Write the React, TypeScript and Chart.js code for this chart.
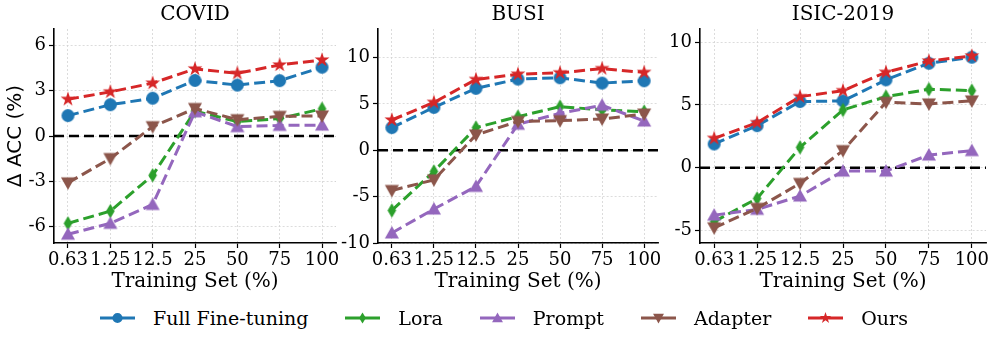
import React, { useEffect, useRef } from 'react';
import { Chart, registerables } from 'chart.js';

Chart.register(...registerables);

// ---------- data ----------
const categories = ['0.63', '1.25', '12.5', '25', '50', '75', '100'];
const seriesNames = ['Full Fine-tuning', 'Lora', 'Prompt', 'Adapter', 'Ours'];
const seriesColors = ['#1f77b4', '#2ca02c', '#9467bd', '#8c564b', '#d62728'];
const seriesMarkers = ['circle', 'thin_diamond', 'triangle_up', 'triangle_down', 'star'];

const covidFull = [1.35, 2.07, 2.5, 3.68, 3.37, 3.66, 4.55];
const covidLora = [-5.78, -4.97, -2.6, 1.65, 0.95, 1.15, 1.8];
const covidPrompt = [-6.5, -5.78, -4.53, 1.6, 0.62, 0.7, 0.72];
const covidAdapter = [-3.1, -1.49, 0.62, 1.82, 1.08, 1.3, 1.33];
const covidOurs = [2.43, 2.92, 3.5, 4.44, 4.15, 4.7, 5.03];

const busiFull = [2.44, 4.62, 6.67, 7.67, 7.81, 7.24, 7.49];
const busiLora = [-6.49, -2.29, 2.44, 3.62, 4.7, 4.35, 4.16];
const busiPrompt = [-8.92, -6.34, -3.9, 2.8, 3.98, 4.85, 3.15];
const busiAdapter = [-4.34, -3.19, 1.65, 3.1, 3.19, 3.37, 3.9];
const busiOurs = [3.26, 5.16, 7.63, 8.2, 8.35, 8.8, 8.39];

const isicFull = [1.89, 3.35, 5.27, 5.32, 7.0, 8.32, 8.8];
const isicLora = [-4.3, -2.45, 1.62, 4.6, 5.66, 6.25, 6.14];
const isicPrompt = [-3.78, -3.32, -2.26, -0.27, -0.27, 1.01, 1.36];
const isicAdapter = [-4.79, -3.24, -1.25, 1.36, 5.21, 5.08, 5.32];
const isicOurs = [2.34, 3.59, 5.66, 6.14, 7.6, 8.5, 8.9];

const covidYTicks = [-6, -3, 0, 3, 6];
const busiYTicks = [-10, -5, 0, 5, 10];
const isicYTicks = [-5, 0, 5, 10];

const SERIF = "'DejaVu Serif', serif";
const SANS = "'DejaVu Sans', sans-serif";

// ---------- markers ----------
function markerPath(shape: string, cx: number, cy: number, s: number): string {
  switch (shape) {
    case 'circle':
      return `M ${cx - s} ${cy} A ${s} ${s} 0 1 0 ${cx + s} ${cy} A ${s} ${s} 0 1 0 ${cx - s} ${cy} Z`;
    case 'thin_diamond':
      return `M ${cx} ${cy - s} L ${cx + s * 0.6} ${cy} L ${cx} ${cy + s} L ${cx - s * 0.6} ${cy} Z`;
    case 'triangle_up':
      return `M ${cx} ${cy - s} L ${cx + s} ${cy + s * 0.8} L ${cx - s} ${cy + s * 0.8} Z`;
    case 'triangle_down':
      return `M ${cx} ${cy + s} L ${cx + s} ${cy - s * 0.8} L ${cx - s} ${cy - s * 0.8} Z`;
    case 'star': {
      let d = '';
      for (let k = 0; k < 10; k++) {
        const r = k % 2 === 0 ? s : s * 0.382;
        const a = -Math.PI / 2 + (k * Math.PI) / 5;
        d += `${k === 0 ? 'M' : 'L'} ${cx + r * Math.cos(a)} ${cy + r * Math.sin(a)} `;
      }
      return d + 'Z';
    }
  }
  return '';
}

const markerHalf: Record<string, number> = {
  circle: 6.5,
  thin_diamond: 7.2,
  triangle_up: 7,
  triangle_down: 7,
  star: 7.8,
};

function makeMarker(shape: string, color: string): HTMLCanvasElement {
  const s = markerHalf[shape];
  const size = Math.ceil(2 * s + 2);
  const c = document.createElement('canvas');
  c.width = size;
  c.height = size;
  const ctx = c.getContext('2d')!;
  ctx.fillStyle = color;
  ctx.fill(new Path2D(markerPath(shape, size / 2, size / 2, s)));
  return c;
}

const zeroLinePlugin = {
  id: 'zeroLine',
  beforeDatasetsDraw(chart: any) {
    const { ctx, chartArea, scales } = chart;
    const py = scales.y.getPixelForValue(0);
    ctx.save();
    ctx.strokeStyle = '#000';
    ctx.lineWidth = 2.5;
    ctx.setLineDash([10, 5]);
    ctx.beginPath();
    ctx.moveTo(chartArea.left, py);
    ctx.lineTo(chartArea.right, py);
    ctx.stroke();
    ctx.restore();
  },
};

const CANVAS_H = 300;

type PanelProps = {
  left: number;
  width: number;
  yAxisWidth: number;
  padRight: number;
  title: string;
  ymin: number;
  ymax: number;
  yTicks: number[];
  series: number[][];
  showYTitle: boolean;
};

function Panel(p: PanelProps) {
  const ref = useRef<HTMLCanvasElement>(null);
  useEffect(() => {
    const markers = seriesMarkers.map((m, i) => makeMarker(m, seriesColors[i]));
    const chart = new Chart(ref.current!, {
      type: 'line',
      data: {
        datasets: seriesNames.map((name, i) => ({
          label: name,
          data: p.series[i].map((v, j) => ({ x: j, y: v })),
          borderColor: seriesColors[i],
          backgroundColor: seriesColors[i],
          borderWidth: 3,
          borderDash: [11, 5],
          pointStyle: markers[i] as any,
          pointRadius: 7,
          order: 4 - i,
          tension: 0,
          fill: false,
        })),
      },
      options: {
        animation: false,
        responsive: false,
        events: [],
        layout: { padding: { left: 0, right: p.padRight, top: 0, bottom: 0 } },
        plugins: {
          legend: { display: false },
          tooltip: { enabled: false },
          title: {
            display: true,
            text: p.title,
            fullSize: false,
            color: '#000',
            font: { family: SERIF, size: 20, weight: 'normal', lineHeight: 1.2 },
            padding: { top: 3, bottom: 2 },
          },
        },
        scales: {
          x: {
            type: 'linear',
            min: -0.33,
            max: 6.33,
            afterBuildTicks: (s: any) => {
              s.ticks = categories.map((_, j) => ({ value: j }));
            },
            afterFit: (s: any) => {
              s.height = CANVAS_H - 243;
            },
            ticks: {
              callback: (v: any) => categories[v],
              color: '#000',
              font: { family: SERIF, size: 18 },
              padding: 2,
              maxRotation: 0,
              autoSkip: false,
            },
            grid: {
              color: '#d4d4d4',
              lineWidth: 0.8,
              tickLength: 5,
              tickColor: '#000',
              tickWidth: 1.2,
              tickBorderDash: [],
            },
            border: { color: '#000', width: 1.6, dash: [2, 2] },
            title: {
              display: true,
              text: 'Training Set (%)',
              color: '#000',
              font: { family: SERIF, size: 20, lineHeight: 1.2 },
              padding: { top: 0, bottom: 6 },
            },
          },
          y: {
            type: 'linear',
            min: p.ymin,
            max: p.ymax,
            afterBuildTicks: (s: any) => {
              s.ticks = p.yTicks.map((v) => ({ value: v }));
            },
            afterFit: (s: any) => {
              s.width = p.yAxisWidth;
            },
            ticks: {
              callback: (v: any) => String(v),
              color: '#000',
              font: { family: SERIF, size: 18 },
              padding: 3,
            },
            grid: {
              color: '#d4d4d4',
              lineWidth: 0.8,
              tickLength: 5,
              tickColor: '#000',
              tickWidth: 1.2,
              tickBorderDash: [],
            },
            border: { color: '#000', width: 1.6, dash: [2, 2] },
            title: {
              display: p.showYTitle,
              text: 'Δ ACC (%)',
              color: '#000',
              font: { family: SANS, size: 20, lineHeight: 1.2 },
              padding: { top: 4, bottom: 0 },
            },
          },
        },
      } as any,
      plugins: [zeroLinePlugin],
    });
    return () => chart.destroy();
  }, []);
  return (
    <canvas
      ref={ref}
      width={p.width}
      height={CANVAS_H}
      style={{ position: 'absolute', left: p.left, top: 0, width: p.width, height: CANVAS_H }}
    />
  );
}

function LegendItem({ idx }: { idx: number }) {
  const shape = seriesMarkers[idx];
  const color = seriesColors[idx];
  const s = markerHalf[shape] * 0.78;
  return (
    <div style={{ display: 'flex', alignItems: 'center', marginRight: 37 }}>
      <svg width={35} height={20} style={{ marginRight: 18, display: 'block' }}>
        <line x1={0} y1={10} x2={35} y2={10} stroke={color} strokeWidth={3} />
        <path d={markerPath(shape, 17.5, 10, s)} fill={color} />
      </svg>
      <span>{seriesNames[idx]}</span>
    </div>
  );
}

export default function App() {
  return (
    <div style={{ position: 'absolute', left: 0, top: 0, width: 996, height: 344, background: '#fff' }}>
      <Panel left={0} width={346} yAxisWidth={54} padRight={3} title="COVID" ymin={-7.08} ymax={7.08}
        yTicks={covidYTicks} series={[covidFull, covidLora, covidPrompt, covidAdapter, covidOurs]} showYTitle={true} />
      <Panel left={334} width={334} yAxisWidth={44} padRight={3} title="BUSI" ymin={-10} ymax={13.07}
        yTicks={busiYTicks} series={[busiFull, busiLora, busiPrompt, busiAdapter, busiOurs]} showYTitle={false} />
      <Panel left={656} width={340} yAxisWidth={44} padRight={8} title="ISIC-2019" ymin={-6} ymax={11.05}
        yTicks={isicYTicks} series={[isicFull, isicLora, isicPrompt, isicAdapter, isicOurs]} showYTitle={false} />
      <div
        style={{
          position: 'absolute',
          left: 100,
          top: 306,
          height: 24,
          display: 'flex',
          alignItems: 'center',
          fontFamily: SERIF,
          fontSize: 19,
          color: '#000',
          whiteSpace: 'nowrap',
        }}
      >
        {seriesNames.map((_, i) => (
          <LegendItem key={i} idx={i} />
        ))}
      </div>
    </div>
  );
}
